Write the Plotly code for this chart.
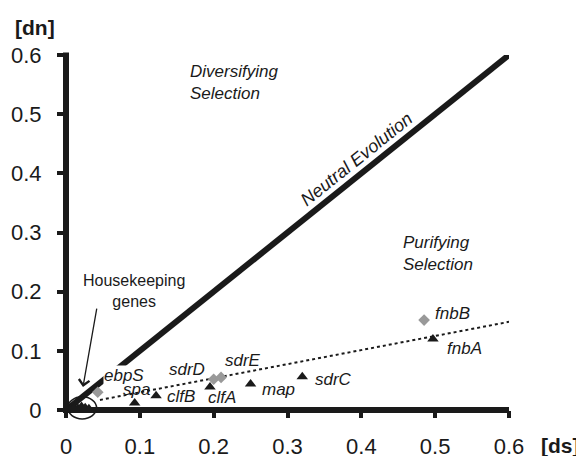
import plotly.graph_objects as go

FONT = "Arial, Liberation Sans, sans-serif"

# Genes with triangle markers (black)
tri_genes = ["spa", "clfB", "clfA", "map", "sdrC", "fnbA"]
tri_ds = [0.093, 0.122, 0.195, 0.250, 0.320, 0.497]
tri_dn = [0.012, 0.024, 0.039, 0.044, 0.056, 0.120]

# Genes with diamond markers (gray)
dia_genes = ["ebpS", "sdrD", "sdrE", "fnbB"]
dia_ds = [0.043, 0.200, 0.210, 0.485]
dia_dn = [0.030, 0.052, 0.055, 0.152]

# Housekeeping genes cluster near origin
hk_ds = [0.006, 0.011, 0.016, 0.021, 0.026, 0.031]
hk_dn = [0.002, 0.004, 0.003, 0.006, 0.004, 0.002]

# Neutral evolution line (dn = ds) and trend line
neutral_ds = [0.0, 0.6]
neutral_dn = [0.0, 0.6]
trend_ds = [0.046, 0.6]
trend_dn = [0.017, 0.149]

tick_vals = [0, 0.1, 0.2, 0.3, 0.4, 0.5, 0.6]
tick_text = ["0", "0.1", "0.2", "0.3", "0.4", "0.5", "0.6"]

fig = go.Figure()

fig.add_trace(go.Scatter(x=neutral_ds, y=neutral_dn, mode="lines",
                         line=dict(color="#1a1a1a", width=6), hoverinfo="skip"))
fig.add_trace(go.Scatter(x=trend_ds, y=trend_dn, mode="lines",
                         line=dict(color="#1a1a1a", width=2, dash="dot"), hoverinfo="skip"))
fig.add_trace(go.Scatter(x=hk_ds, y=hk_dn, mode="markers", cliponaxis=False,
                         marker=dict(symbol="triangle-up", size=10, color="#1a1a1a")))
fig.add_trace(go.Scatter(x=tri_ds, y=tri_dn, mode="markers", cliponaxis=False,
                         marker=dict(symbol="triangle-up", size=10, color="#1a1a1a")))
fig.add_trace(go.Scatter(x=dia_ds, y=dia_dn, mode="markers", cliponaxis=False,
                         marker=dict(symbol="diamond", size=9, color="#999999")))

# label offsets (pixels) relative to points
tri_shift = {"spa": (2, 13), "clfB": (25, -1), "clfA": (12, -11),
             "map": (28, -6), "sdrC": (31, -3), "fnbA": (32, -9)}
dia_shift = {"ebpS": (26, 17), "sdrD": (-27, 10), "sdrE": (22, 17), "fnbB": (28, 7)}

annotations = []
for g, x, y in zip(tri_genes, tri_ds, tri_dn):
    dx, dy = tri_shift[g]
    annotations.append(dict(x=x, y=y, text="<i>" + g + "</i>", showarrow=False,
                            xshift=dx, yshift=dy,
                            font=dict(family=FONT, size=17, color="#1a1a1a"),
                            xanchor="center", yanchor="middle"))
for g, x, y in zip(dia_genes, dia_ds, dia_dn):
    dx, dy = dia_shift[g]
    annotations.append(dict(x=x, y=y, text="<i>" + g + "</i>", showarrow=False,
                            xshift=dx, yshift=dy,
                            font=dict(family=FONT, size=17, color="#1a1a1a"),
                            bgcolor="white" if g == "ebpS" else None,
                            borderpad=0,
                            xanchor="center", yanchor="middle"))

annotations += [
    dict(x=0.165, y=0.553, text="<i>Diversifying<br>Selection</i>", showarrow=False,
         xanchor="left", yanchor="middle", align="left",
         font=dict(family=FONT, size=17, color="#1a1a1a")),
    dict(x=0.454, y=0.264, text="<i>Purifying<br>Selection</i>", showarrow=False,
         xanchor="left", yanchor="middle", align="left",
         font=dict(family=FONT, size=17, color="#1a1a1a")),
    dict(x=0.394, y=0.424, text="<i>Neutral Evolution</i>", showarrow=False,
         textangle=-38.7, xanchor="center", yanchor="middle",
         font=dict(family=FONT, size=18, color="#1a1a1a")),
    dict(x=0.092, y=0.201, text="Housekeeping<br>genes", showarrow=False,
         xanchor="center", yanchor="middle", align="center",
         font=dict(family=FONT, size=16, color="#1a1a1a")),
    dict(x=0.023, y=0.039, ax=0.042, ay=0.174, axref="x", ayref="y",
         text="", showarrow=True, arrowhead=4, arrowsize=1.6, arrowwidth=1.3,
         arrowcolor="#1a1a1a"),
    dict(x=0, y=1, xref="paper", yref="paper", text="<b>[dn]</b>", showarrow=False,
         xshift=-31, yshift=28, xanchor="center", yanchor="middle",
         font=dict(family=FONT, size=21, color="#1a1a1a")),
    dict(x=1, y=0, xref="paper", yref="paper", text="<b>[ds]</b>", showarrow=False,
         xshift=51, yshift=-35, xanchor="center", yanchor="middle",
         font=dict(family=FONT, size=21, color="#1a1a1a")),
]

shapes = [
    # axes lines
    dict(type="path", xref="paper", yref="paper", path="M 0,1.007 L 0,0 L 1,0",
         line=dict(color="#1a1a1a", width=6)),
    # ellipse around housekeeping genes
    dict(type="circle", xref="paper", yref="paper",
         x0=0.004, x1=0.069, y0=-0.025, y1=0.037,
         line=dict(color="#1a1a1a", width=1.5)),
]

fig.update_layout(
    template="none",
    width=576, height=448,
    margin=dict(l=58, r=75, t=47, b=46, autoexpand=False),
    paper_bgcolor="white", plot_bgcolor="white",
    showlegend=False,
    font=dict(family=FONT, color="#1a1a1a"),
    annotations=annotations,
    shapes=shapes,
    xaxis=dict(range=[0, 0.6], tickvals=tick_vals, ticktext=tick_text,
               automargin=False,
               showgrid=False, zeroline=False, showline=False,
               ticks="outside", ticklen=7, tickwidth=4, tickcolor="#1a1a1a",
               tickfont=dict(family=FONT, size=22, color="#1a1a1a"),
               ticklabelstandoff=10),
    yaxis=dict(range=[0, 0.6], tickvals=tick_vals, ticktext=tick_text,
               automargin=False,
               showgrid=False, zeroline=False, showline=False,
               ticks="outside", ticklen=8, tickwidth=4, tickcolor="#1a1a1a",
               tickfont=dict(family=FONT, size=22, color="#1a1a1a"),
               ticklabelstandoff=11),
)

fig.write_html("out.html")
